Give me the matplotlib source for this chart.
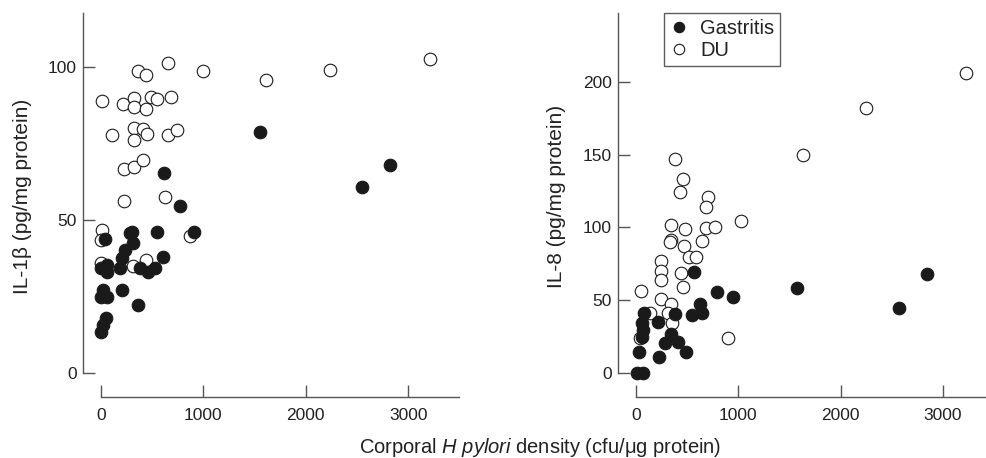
import matplotlib
matplotlib.use("Agg")
import matplotlib.pyplot as plt
from matplotlib.lines import Line2D

plt.rcParams['font.family'] = ['Liberation Sans', 'DejaVu Sans']
plt.rcParams['mathtext.fontset'] = 'custom'
plt.rcParams['mathtext.rm'] = 'Liberation Sans'
plt.rcParams['mathtext.it'] = 'Liberation Sans:italic'

# ---- data: IL-1beta panel ----
il1_gas_x = [39, 283, 300, 316, 544, 911, 234, 202, 609, 0, 55, 55, 186, 381, 462, 527,
             23, 0, 55, 202, 364, 46, 23, 0, 615, 771, 1553, 2552, 2822]
il1_gas_y = [43.8, 45.6, 46.0, 42.4, 46.2, 46.2, 40.2, 37.5, 38.0, 34.2, 35.3, 33.1, 34.2, 34.2, 33.1, 34.2,
             27.1, 24.9, 24.9, 27.1, 22.2, 17.9, 15.7, 13.5, 65.4, 54.5, 78.6, 60.8, 68.1]
il1_du_x = [10, 218, 325, 325, 440, 488, 544, 681, 364, 440, 651, 996, 1611, 2236, 3213,
            110, 319, 407, 449, 319, 657, 739, 221, 322, 407, 228, 625, 872, 13, 0, 0, 440, 316]
il1_du_y = [89.0, 88.0, 89.8, 87.0, 86.3, 90.1, 89.4, 90.0, 98.6, 97.4, 101.3, 98.8, 95.6, 99.1, 102.7,
            77.8, 80.0, 79.6, 78.2, 76.1, 77.7, 79.5, 66.7, 67.2, 69.5, 56.3, 57.6, 44.8, 46.7, 43.5, 35.8, 36.9, 35.0]

# ---- data: IL-8 panel ----
il8_gas_x = [2848, 2571, 1574, 567, 789, 951, 629, 645, 544, 381, 78, 56, 72, 218, 56, 342,
             283, 413, 487, 32, 228, 7, 72]
il8_gas_y = [68.0, 44.4, 58.2, 69.4, 55.6, 52.4, 47.4, 41.4, 39.8, 40.3, 41.0, 34.1, 29.5, 35.2, 24.9, 26.6,
             20.4, 21.5, 14.6, 14.2, 10.7, 0.2, 0.2]
il8_du_x = [3222, 2251, 1629, 378, 463, 430, 707, 681, 1026, 345, 479, 681, 772, 345, 335, 645,
            466, 515, 583, 244, 244, 244, 440, 459, 49, 247, 342, 137, 317, 350, 903, 39]
il8_du_y = [206.3, 181.8, 149.5, 147.2, 133.2, 124.1, 120.9, 114.0, 104.2, 101.4, 98.9, 99.4, 100.5, 91.3, 90.0, 90.9,
            87.2, 79.9, 79.9, 77.1, 70.3, 63.9, 68.9, 58.9, 56.5, 50.8, 47.4, 41.0, 41.0, 34.1, 24.3, 23.8]

xticks = [0, 1000, 2000, 3000]
il1_yticks = [0, 50, 100]
il8_yticks = [0, 50, 100, 150, 200]

W, H = 987, 458
fig = plt.figure(figsize=(W / 100, H / 100), dpi=100)

ax1 = fig.add_axes([83 / W, 61 / H, 376 / W, 384 / H])
ax2 = fig.add_axes([618 / W, 61 / H, 369 / W, 384 / H])

FILL = '#1a1a1a'
EDGE = '#1a1a1a'
S = 82
LW = 0.8

def style(ax, xlim, ylim, yticks):
    ax.set_xlim(*xlim)
    ax.set_ylim(*ylim)
    for sp in ['top', 'right']:
        ax.spines[sp].set_visible(False)
    for sp in ['left', 'bottom']:
        ax.spines[sp].set_color('#555555')
        ax.spines[sp].set_linewidth(1.0)
    ax.spines['left'].set_bounds(0, ylim[1])
    ax.spines['bottom'].set_bounds(0, xlim[1])
    ax.set_xticks(xticks)
    ax.set_yticks(yticks)
    ax.tick_params(axis='both', direction='in', length=8.5, width=1.0, color='#555555',
                   labelsize=12.5, labelcolor='#222222')
    ax.tick_params(axis='x', pad=8)
    ax.tick_params(axis='y', pad=4.5)

style(ax1, (-176, 3496), (-7.84, 117.6), il1_yticks)
style(ax2, (-176, 3431), (-16.5, 247.3), il8_yticks)

ax1.scatter(il1_du_x, il1_du_y, s=S, facecolor='white', edgecolor=EDGE, linewidth=LW, zorder=2)
ax1.scatter(il1_gas_x, il1_gas_y, s=S, facecolor=FILL, edgecolor=FILL, linewidth=LW, zorder=3)
ax2.scatter(il8_du_x, il8_du_y, s=S, facecolor='white', edgecolor=EDGE, linewidth=LW, zorder=2)
ax2.scatter(il8_gas_x, il8_gas_y, s=S, facecolor=FILL, edgecolor=FILL, linewidth=LW, zorder=3)

fig.text(23 / W, 1 - 196 / H, 'IL-1β (pg/mg protein)', rotation=90, ha='center', va='center',
         fontsize=15, color='#222222')
fig.text(557 / W, 1 - 196 / H, 'IL-8 (pg/mg protein)', rotation=90, ha='center', va='center',
         fontsize=15, color='#222222')
fig.text(540 / W, 1 - 453 / H, r'Corporal $H\ pylori$ density (cfu/μg protein)', ha='center',
         va='baseline', fontsize=14.5, color='#222222')

handles = [Line2D([], [], marker='o', linestyle='none', markersize=7.5, markerfacecolor=FILL,
                  markeredgecolor=FILL, markeredgewidth=0.8),
           Line2D([], [], marker='o', linestyle='none', markersize=7.5, markerfacecolor='white',
                  markeredgecolor=EDGE, markeredgewidth=0.8)]
leg = fig.legend(handles, ['Gastritis', 'DU'], loc='upper left', bbox_to_anchor=(664 / W, 1 - 13 / H),
                 bbox_transform=fig.transFigure, borderaxespad=0, frameon=True, fancybox=False,
                 fontsize=14.5, handlelength=0.9, handletextpad=0.6, borderpad=0.3,
                 labelspacing=0.15)
leg.get_frame().set_edgecolor('#333333')
leg.get_frame().set_linewidth(1.0)
for t in leg.get_texts():
    t.set_color('#222222')

fig.savefig('out.png', dpi=100)
